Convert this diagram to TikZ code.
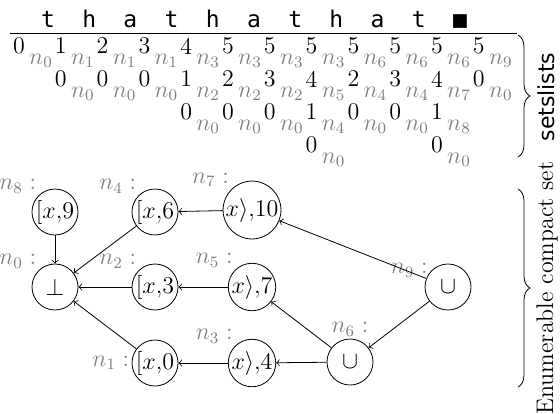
\documentclass[tikz,border=0pt]{standalone}
\usepackage{fontspec}
\newfontfamily\monofont{DejaVu Sans Mono}
\newfontfamily\labelsans{DejaVu Sans}
\usetikzlibrary{decorations.pathreplacing}

\begin{document}
\begin{tikzpicture}[x=0.5pt,y=-0.5pt,
  every node/.style={font=\fontsize{12}{14.4}\selectfont},
  letter/.style={font=\fontsize{11.5}{13.8}\selectfont\monofont, anchor=base, inner sep=0pt},
  digit/.style={inner sep=0pt},
  tag/.style={inner sep=0pt, text=gray},
  state/.style={draw, circle, minimum size=23pt, inner sep=0pt},
  nlab/.style={text=gray, inner sep=1pt},
  edge/.style={->},
  bracer/.style={decorate, decoration={brace, amplitude=6pt}},
  side/.style={rotate=90, inner sep=0pt}]
\useasboundingbox (0,0) rectangle (560,413);

% the input string
\foreach \c [count=\j from 0] in {t,h,a,t,h,a,t,h,a,t,■}
  \node[letter] (s\j) at ({48+41.2*\j},27) {\c};
\coordinate (rl) at (10,33);
\coordinate (rr) at (517,33);
\draw (rl) -- (rr);

% setlists: column / row / value / node
\foreach \c/\r/\d/\s in {
  0/1/0/0, 1/1/1/1, 2/1/2/1, 3/1/3/1, 4/1/4/3, 5/1/5/3, 6/1/5/3, 7/1/5/3,
  8/1/5/6, 9/1/5/6, 10/1/5/6, 11/1/5/9,
  1/2/0/0, 2/2/0/0, 3/2/0/0, 4/2/1/2, 5/2/2/2, 6/2/3/2, 7/2/4/5, 8/2/2/4,
  9/2/3/4, 10/2/4/7, 11/2/0/0,
  4/3/0/0, 5/3/0/0, 6/3/0/0, 7/3/1/4, 8/3/0/0, 9/3/0/0, 10/3/1/8,
  7/4/0/0, 10/4/0/0} {
  \node[digit] (d\c r\r) at ({19+41.8*\c},{13+33*\r}) {\d};
  \node[tag] (t\c r\r) at ({41+41.8*\c},{28+33*\r}) {$n_{\s}$};
}

% braces and side labels
\coordinate (b1t) at (518,35);
\coordinate (b1b) at (518,157);
\draw[bracer] (b1t) -- (b1b);
\node[side, font=\fontsize{11}{13.2}\selectfont\labelsans] (setsl) at (546,97) {setslists};
\coordinate (b2t) at (518,189);
\coordinate (b2b) at (518,387);
\draw[bracer] (b2t) -- (b2b);
\node[side, font=\fontsize{12}{14.4}\selectfont] (ecs) at (547,288) {Enumerable compact set};

% the graph
\node[state, label={[nlab]135:$n_8:$}] (n8) at (55,212) {${[}x{,}9$};
\node[state, label={[nlab]135:$n_4:$}] (n4) at (155,212) {${[}x{,}6$};
\node[state, label={[nlab]135:$n_7:$}] (n7) at (252,210) {$x\rangle{,}10$};
\node[state, label={[nlab]135:$n_0:$}] (n0) at (55,287) {$\bot$};
\node[state, label={[nlab]135:$n_2:$}] (n2) at (155,287) {${[}x{,}3$};
\node[state, label={[nlab]135:$n_5:$}] (n5) at (252,287) {$x\rangle{,}7$};
\node[state, label={[nlab, label distance=-2pt]158:$n_9:$}] (n9) at (448,287) {$\cup$};
\node[state, label={[nlab]left:$n_1:$}] (n1) at (155,363) {${[}x{,}0$};
\node[state, label={[nlab]135:$n_3:$}] (n3) at (252,363) {$x\rangle{,}4$};
\node[state, label={[nlab]above:$n_6:$}] (n6) at (350,362) {$\cup$};

\draw[edge] (n8) -- (n0);
\draw[edge] (n4) -- (n0);
\draw[edge] (n2) -- (n0);
\draw[edge] (n1) -- (n0);
\draw[edge] (n7) -- (n4);
\draw[edge] (n5) -- (n2);
\draw[edge] (n3) -- (n1);
\draw[edge] (n6) -- (n3);
\draw[edge] (n6) -- (n5);
\draw[edge] (n9) -- (n7);
\draw[edge] (n9) -- (n6);
\end{tikzpicture}
\end{document}
